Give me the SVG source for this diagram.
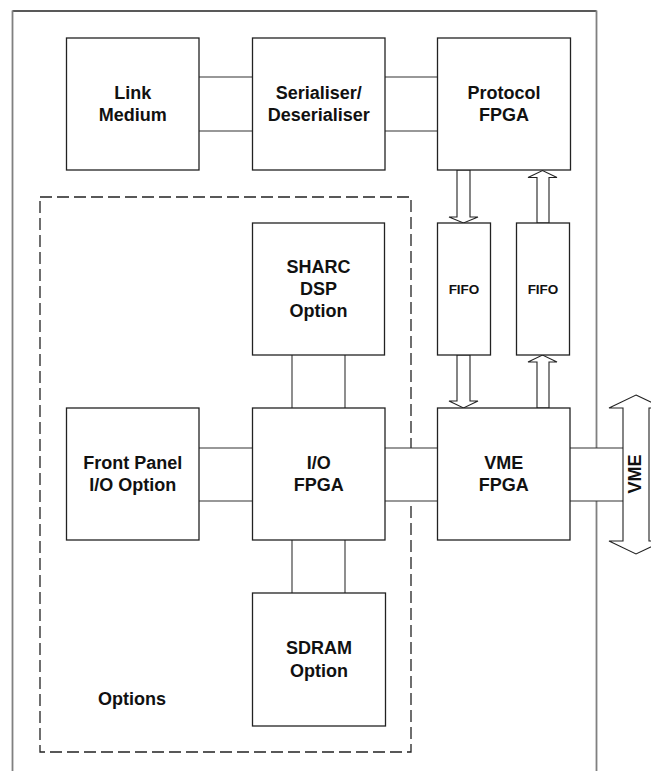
<svg xmlns="http://www.w3.org/2000/svg" width="651" height="771" viewBox="0 0 651 771">
<style>
.box{fill:#fff;stroke:#222;stroke-width:1.3}
.t{font-family:"Liberation Sans",Arial,sans-serif;font-weight:bold;font-size:18px;fill:#111;text-anchor:middle}
.ts{font-family:"Liberation Sans",Arial,sans-serif;font-weight:bold;font-size:13.5px;fill:#111;text-anchor:middle}
.cf{fill:#fff;stroke:none}
.cl{stroke:#333;stroke-width:1.1;fill:none}
.arr{fill:#fff;stroke:#222;stroke-width:1.1;stroke-linejoin:miter}
</style>
<rect width="651" height="771" fill="#fff"/>
<g id="frame">
<line x1="12.5" y1="11" x2="596.5" y2="11" stroke="#222" stroke-width="1.3"/>
<line x1="12.5" y1="10.5" x2="12.5" y2="771" stroke="#808080" stroke-width="1.8"/>
<line x1="596.5" y1="10.5" x2="596.5" y2="771" stroke="#808080" stroke-width="1.8"/>
</g>
<g id="options">
<rect x="40" y="197" width="371" height="555" fill="none" stroke="#222" stroke-width="1.3" stroke-dasharray="12 5"/>
<text class="t" x="98" y="705" style="text-anchor:start">Options</text>
</g>
<g id="connectors">
<rect class="cf" x="199" y="77" width="53.5" height="54"/>
<path class="cl" d="M199 77H252.5M199 131H252.5"/>
<rect class="cf" x="385" y="77" width="52.5" height="54"/>
<path class="cl" d="M385 77H437.5M385 131H437.5"/>
<rect class="cf" x="292" y="355" width="53" height="53"/>
<path class="cl" d="M292 355V408M345 355V408"/>
<rect class="cf" x="199" y="448" width="53.5" height="53"/>
<path class="cl" d="M199 448H252.5M199 501H252.5"/>
<rect class="cf" x="385" y="448" width="52.5" height="53"/>
<path class="cl" d="M385 448H437.5M385 501H437.5"/>
<rect class="cf" x="570" y="448" width="53" height="53"/>
<path class="cl" d="M570 448H623M570 501H623"/>
<rect class="cf" x="292" y="540" width="53" height="53"/>
<path class="cl" d="M292 540V593M345 540V593"/>
<polygon class="arr" points="457,170 457,217 449,217 463.5,223 478,217 470,217 470,170"/>
<polygon class="arr" points="537,223 537,177.5 528,177.5 542.5,170.5 557,177.5 549,177.5 549,223"/>
<polygon class="arr" points="457,355 457,401 449,401 463.5,408 478,401 470,401 470,355"/>
<polygon class="arr" points="537,408 537,362 528,362 542.5,355 557,362 549,362 549,408"/>
<polygon class="arr" points="636,395 663,408 649,408 649,541 663,541 636,554 609,541 623,541 623,408 609,408"/>
</g>
<g id="vme-bus">
<text class="t" transform="translate(641,474) rotate(-90)" x="0" y="0">VME</text>
</g>
<g id="link-medium">
<rect class="box" x="66.5" y="38" width="132.5" height="132"/>
<text class="t" x="132.75" y="99">Link</text>
<text class="t" x="132.75" y="121">Medium</text>
</g>
<g id="serialiser">
<rect class="box" x="252.5" y="38" width="132.5" height="132"/>
<text class="t" x="318.75" y="99">Serialiser/</text>
<text class="t" x="318.75" y="121">Deserialiser</text>
</g>
<g id="protocol-fpga">
<rect class="box" x="437.5" y="38" width="133" height="132"/>
<text class="t" x="504" y="99">Protocol</text>
<text class="t" x="504" y="121">FPGA</text>
</g>
<g id="fifo-down">
<rect class="box" x="437.5" y="223" width="53" height="132"/>
<text class="ts" x="464" y="294">FIFO</text>
</g>
<g id="fifo-up">
<rect class="box" x="516.5" y="223" width="53" height="132"/>
<text class="ts" x="543" y="294">FIFO</text>
</g>
<g id="sharc">
<rect class="box" x="252.5" y="223" width="132" height="132"/>
<text class="t" x="318.5" y="273">SHARC</text>
<text class="t" x="318.5" y="295">DSP</text>
<text class="t" x="318.5" y="317">Option</text>
</g>
<g id="front-panel">
<rect class="box" x="66.5" y="408" width="132.5" height="132"/>
<text class="t" x="132.75" y="469">Front Panel</text>
<text class="t" x="132.75" y="491">I/O Option</text>
</g>
<g id="io-fpga">
<rect class="box" x="252.5" y="408" width="132.5" height="132"/>
<text class="t" x="318.75" y="469">I/O</text>
<text class="t" x="318.75" y="491">FPGA</text>
</g>
<g id="vme-fpga">
<rect class="box" x="437.5" y="408" width="132.5" height="132"/>
<text class="t" x="503.75" y="469">VME</text>
<text class="t" x="503.75" y="491">FPGA</text>
</g>
<g id="sdram">
<rect class="box" x="252.5" y="593" width="133" height="133"/>
<text class="t" x="319" y="654">SDRAM</text>
<text class="t" x="319" y="677">Option</text>
</g>
</svg>
